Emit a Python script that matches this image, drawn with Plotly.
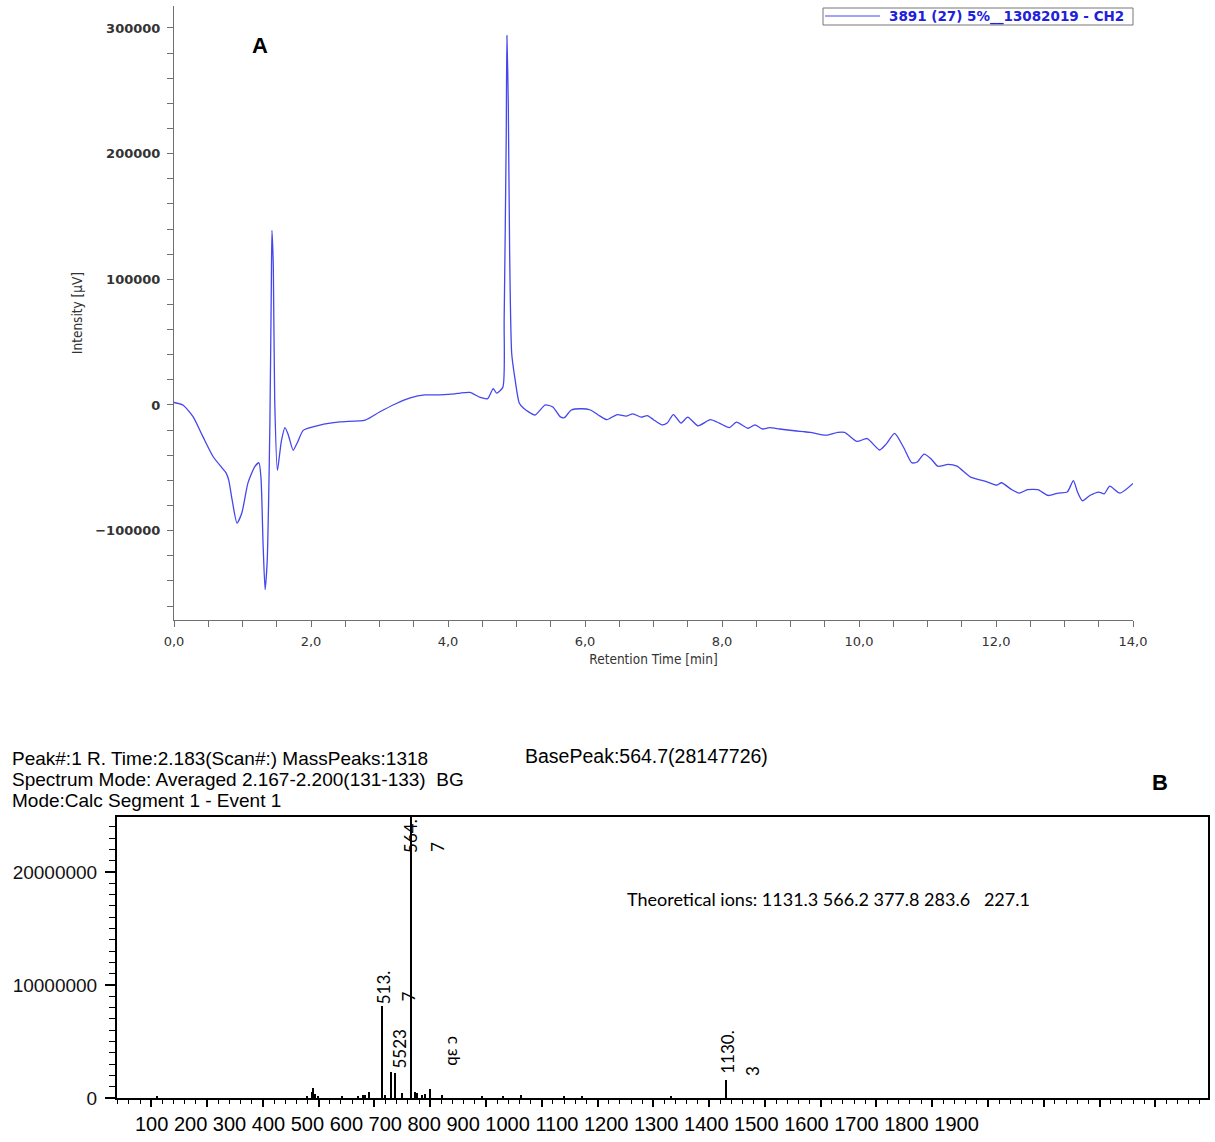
import plotly.graph_objects as go

W, H = 1215, 1142

# ---------------- Panel A : chromatogram ----------------
rt_min = [0.00, 0.13, 0.28, 0.42, 0.57, 0.70, 0.76, 0.80, 0.85, 0.92, 0.99, 1.08, 1.18, 1.24,
          1.27, 1.30, 1.33, 1.36, 1.38, 1.40, 1.42, 1.43, 1.45, 1.47, 1.51, 1.54, 1.57, 1.62,
          1.67, 1.74, 1.80, 1.89, 2.13, 2.42, 2.79, 3.00, 3.23, 3.45, 3.66, 3.88, 4.10, 4.18,
          4.32, 4.47, 4.58, 4.66, 4.71, 4.80, 4.82, 4.85, 4.86, 4.88, 4.90, 4.93, 4.98, 5.04,
          5.10, 5.27, 5.42, 5.53, 5.64, 5.70, 5.80, 5.95, 6.08, 6.22, 6.32, 6.47, 6.60, 6.70,
          6.82, 6.91, 7.00, 7.12, 7.20, 7.29, 7.40, 7.50, 7.65, 7.83, 7.96, 8.11, 8.21, 8.38,
          8.48, 8.59, 8.69, 8.84, 8.96, 9.09, 9.19, 9.29, 9.44, 9.54, 9.69, 9.79, 9.97, 10.12,
          10.30, 10.40, 10.52, 10.65, 10.77, 10.85, 10.95, 11.05, 11.15, 11.30, 11.43, 11.63,
          11.86, 12.01, 12.08, 12.23, 12.34, 12.46, 12.61, 12.76, 12.91, 13.04, 13.13, 13.19,
          13.26, 13.37, 13.50, 13.58, 13.66, 13.81, 14.00]
intensity_k_uv = [2, 0, -9.5, -25, -41, -50, -54, -60, -76, -94, -86, -62, -49, -46,
                  -58, -110, -147, -125, -80, -14, 90, 139, 110, 4, -52, -40, -28, -18,
                  -24, -36, -30, -20, -16, -13.5, -12, -5.6, 0.8, 5.6, 8, 8, 8.8, 9.5,
                  10, 6, 5, 13, 9.5, 14, 68, 213, 294, 240, 121, 41, 20, 1.6,
                  -2.4, -8, 0, -1.6, -9.5, -10, -4, -3, -4, -8.9, -11.7, -7.6, -8.9, -7.0,
                  -9.7, -8.4, -11.7, -15.8, -14.4, -7.6, -14.4, -9.7, -16.6, -11.7, -14.4, -18.0, -13.6, -18.5,
                  -15.8, -19.1, -18.0, -19.1, -19.9, -20.7, -21.2, -21.8, -23.5, -24.0, -21.8, -21.8, -29.0, -26.7,
                  -35.8, -30.9, -22.6, -33.6, -46.0, -45.4, -39.1, -42.7, -48.7, -47.3, -48.7, -57.4,
                  -61.0, -63.8, -61.9, -67.4, -70.1, -67.4, -67.4, -72.0, -70.1, -69.3, -60.2, -69.3,
                  -76.2, -72.0, -69.3, -70.7, -64.6, -70.1, -62.4]
intensity_uv = [v * 1000 for v in intensity_k_uv]
series_name = "3891 (27) 5%__13082019 - CH2"

# ---------------- Panel B : mass spectrum ----------------
mz = [110, 379, 388, 390, 393.5, 399.5, 441, 470.6, 479.6, 483, 491, 513.7, 519, 529,
      537, 549.5, 564.7, 573, 576, 585, 591, 600, 621, 693, 730, 763, 840, 872, 1032, 1130.3]
abundance = [0.15e6, 0.2e6, 0.5e6, 0.9e6, 0.35e6, 0.2e6, 0.2e6, 0.15e6, 0.3e6, 0.25e6, 0.5e6,
             8.1e6, 0.3e6, 2.3e6, 2.2e6, 0.4e6, 28147726, 0.5e6, 0.4e6, 0.3e6, 0.35e6,
             0.8e6, 0.3e6, 0.2e6, 0.15e6, 0.25e6, 0.2e6, 0.15e6, 0.15e6, 1.55e6]
mz_tick_labels = [100, 200, 300, 400, 500, 600, 700, 800, 900, 1000,
                  1100, 1200, 1300, 1400, 1500, 1600, 1700, 1800, 1900]
# peak label texts and the peak (m/z) they belong to
peak_label_text = ["564.", "7", "513.", "7", "5523", "qɛ ɔ", "1130.", "3"]
peak_label_mz = [564.7, 564.7, 513.7, 513.7, 533, 600, 1130.3, 1130.3]
header_lines = ["Peak#:1 R. Time:2.183(Scan#:) MassPeaks:1318",
                "Spectrum Mode: Averaged 2.167-2.200(131-133)  BG",
                "Mode:Calc Segment 1 - Event 1"]
base_peak_text = "BasePeak:564.7(28147726)"
theoretical_text = "Theoretical ions: 1131.3 566.2 377.8 283.6\u00a0\u00a0\u00a0227.1"

# ---------------- layout helpers ----------------
def px_x(p):
    return p / W


def px_y(p):
    return 1 - p / H


fig = go.Figure()

line_blue = "#4646ee"
fig.add_trace(go.Scatter(
    x=rt_min, y=intensity_uv, mode="lines", name=series_name,
    line=dict(color=line_blue, width=1.3, shape="spline", smoothing=0.6),
    xaxis="x", yaxis="y", showlegend=False))

fig.add_trace(go.Bar(
    x=mz, y=abundance, xaxis="x2", yaxis="y2", width=3.6,
    marker=dict(color="black", line=dict(width=0)), showlegend=False))

axis_gray = "#707070"
fontA = "DejaVu Sans, Verdana, sans-serif"
fontA_cond = "DejaVu Sans Condensed, DejaVu Sans, sans-serif"
fontB = "Liberation Sans, Arial, sans-serif"
fontCal = "Lato, Carlito, Calibri, sans-serif"

fig.update_layout(
    width=W, height=H, margin=dict(l=0, r=0, t=0, b=0, autoexpand=False),
    paper_bgcolor="white", plot_bgcolor="white",
    separators=",.",
    bargap=0, showlegend=False,
    xaxis=dict(domain=[px_x(174), px_x(1133)], anchor="y", range=[0, 14], automargin=False,
               showline=True, linecolor=axis_gray, linewidth=1, zeroline=False, showgrid=False,
               ticks="outside", ticklen=6, tickcolor=axis_gray, dtick=2, tick0=0, tickformat=".1f",
               minor=dict(dtick=0.5, ticks="outside", ticklen=6, tickcolor=axis_gray, showgrid=False),
               tickfont=dict(family=fontA, size=13, color="#333"), ticklabelstandoff=3,
               title=dict(text="Retention Time [min]", standoff=6,
                          font=dict(family=fontA_cond, size=13.5, color="#333"))),
    yaxis=dict(domain=[px_y(620), px_y(6)], anchor="x", range=[-171100, 317500], automargin=False,
               showline=True, linecolor=axis_gray, linewidth=1, zeroline=False, showgrid=False,
               ticks="outside", ticklen=6, tickcolor=axis_gray, dtick=100000, tick0=0, tickformat="d",
               minor=dict(dtick=20000, ticks="outside", ticklen=6, tickcolor=axis_gray, showgrid=False),
               tickfont=dict(family=fontA, size=13, color="#333", weight="bold"),
               ticklabelstandoff=4,
               title=dict(text="Intensity [µV]", standoff=9,
                          font=dict(family=fontA_cond, size=13.5, color="#333"))),
    xaxis2=dict(domain=[px_x(117), px_x(1208)], anchor="y2", range=[38.5, 1994.4], automargin=False,
                showline=True, mirror=True, linecolor="black", linewidth=2, zeroline=False, showgrid=False,
                ticks="outside", ticklen=7, tickwidth=1.5, tickcolor="black", dtick=100, tick0=0,
                minor=dict(dtick=20, ticks="outside", ticklen=4, tickwidth=1.2, tickcolor="black", showgrid=False),
                showticklabels=False),
    yaxis2=dict(domain=[px_y(1098), px_y(817)], anchor="x2", range=[0, 24.87e6], automargin=False,
                showline=True, mirror=True, linecolor="black", linewidth=2, zeroline=False, showgrid=False,
                ticks="outside", ticklen=10, tickwidth=1.5, tickcolor="black", dtick=1e7, tick0=0, tickformat="d",
                minor=dict(dtick=1e6, ticks="outside", ticklen=6, tickwidth=1.2, tickcolor="black", showgrid=False),
                tickfont=dict(family=fontB, size=19, color="#111"), ticklabelstandoff=4),
)

shapes = []
# legend box for the chromatogram series
shapes.append(dict(type="rect", xref="paper", yref="paper",
                   x0=px_x(823), x1=px_x(1133), y0=px_y(25), y1=px_y(8),
                   line=dict(color="#777", width=1), fillcolor="white", layer="above"))
shapes.append(dict(type="line", xref="paper", yref="paper",
                   x0=px_x(825), x1=px_x(880), y0=px_y(16), y1=px_y(16),
                   line=dict(color=line_blue, width=1.2), layer="above"))
fig.update_layout(shapes=shapes)

annotations = []
annotations.append(dict(text=series_name, x=px_x(887), y=px_y(16.5), xref="paper", yref="paper",
                        showarrow=False, xanchor="left", yanchor="middle",
                        font=dict(family=fontA, size=13.5, color="#2020dd", weight="bold")))
# panel letters
annotations.append(dict(text="<b>A</b>", x=px_x(260), y=px_y(45), xref="paper", yref="paper",
                        showarrow=False, xanchor="center", yanchor="middle",
                        font=dict(family=fontB, size=22, color="black")))
annotations.append(dict(text="<b>B</b>", x=px_x(1160), y=px_y(782), xref="paper", yref="paper",
                        showarrow=False, xanchor="center", yanchor="middle",
                        font=dict(family=fontB, size=22, color="black")))
# header lines
header_y = [758.5, 779.5, 800.5]
for line, yy in zip(header_lines, header_y):
    annotations.append(dict(text=line, x=px_x(10), y=px_y(yy), xref="paper", yref="paper",
                            showarrow=False, xanchor="left", yanchor="middle",
                            font=dict(family=fontB, size=19, color="black")))
annotations.append(dict(text=base_peak_text, x=px_x(523), y=px_y(756), xref="paper", yref="paper",
                        showarrow=False, xanchor="left", yanchor="middle",
                        font=dict(family=fontB, size=19.5, color="black")))
annotations.append(dict(text=theoretical_text, x=px_x(625), y=px_y(899), xref="paper", yref="paper",
                        showarrow=False, xanchor="left", yanchor="middle",
                        font=dict(family=fontCal, size=18, color="black")))
# m/z tick label strip (as printed in the source, one string)
annotations.append(dict(text=" ".join(str(v) for v in mz_tick_labels), x=px_x(133), y=px_y(1124),
                        xref="paper", yref="paper", showarrow=False, xanchor="left", yanchor="middle",
                        font=dict(family=fontB, size=20, color="black")))
# peak labels (rotated)
label_y = [23.15e6, 22.17e6, 9.8e6, 9.0e6, 4.36e6, 4.2e6, 4.0e6, 2.4e6]
label_dx = [0, 27, 1, 26, 7, 20, 2, 27]
for txt, m, yy, dx in zip(peak_label_text, peak_label_mz, label_y, label_dx):
    annotations.append(dict(text=txt, x=m, y=yy, xref="x2", yref="y2", xshift=dx,
                            showarrow=False, textangle=-90, xanchor="center", yanchor="middle",
                            font=dict(family=fontCal, size=17, color="black")))
fig.update_layout(annotations=annotations)

fig.write_html("out.html", config={"displayModeBar": False},
               post_script="document.body.style.margin='0px';document.body.style.overflow='hidden';")
